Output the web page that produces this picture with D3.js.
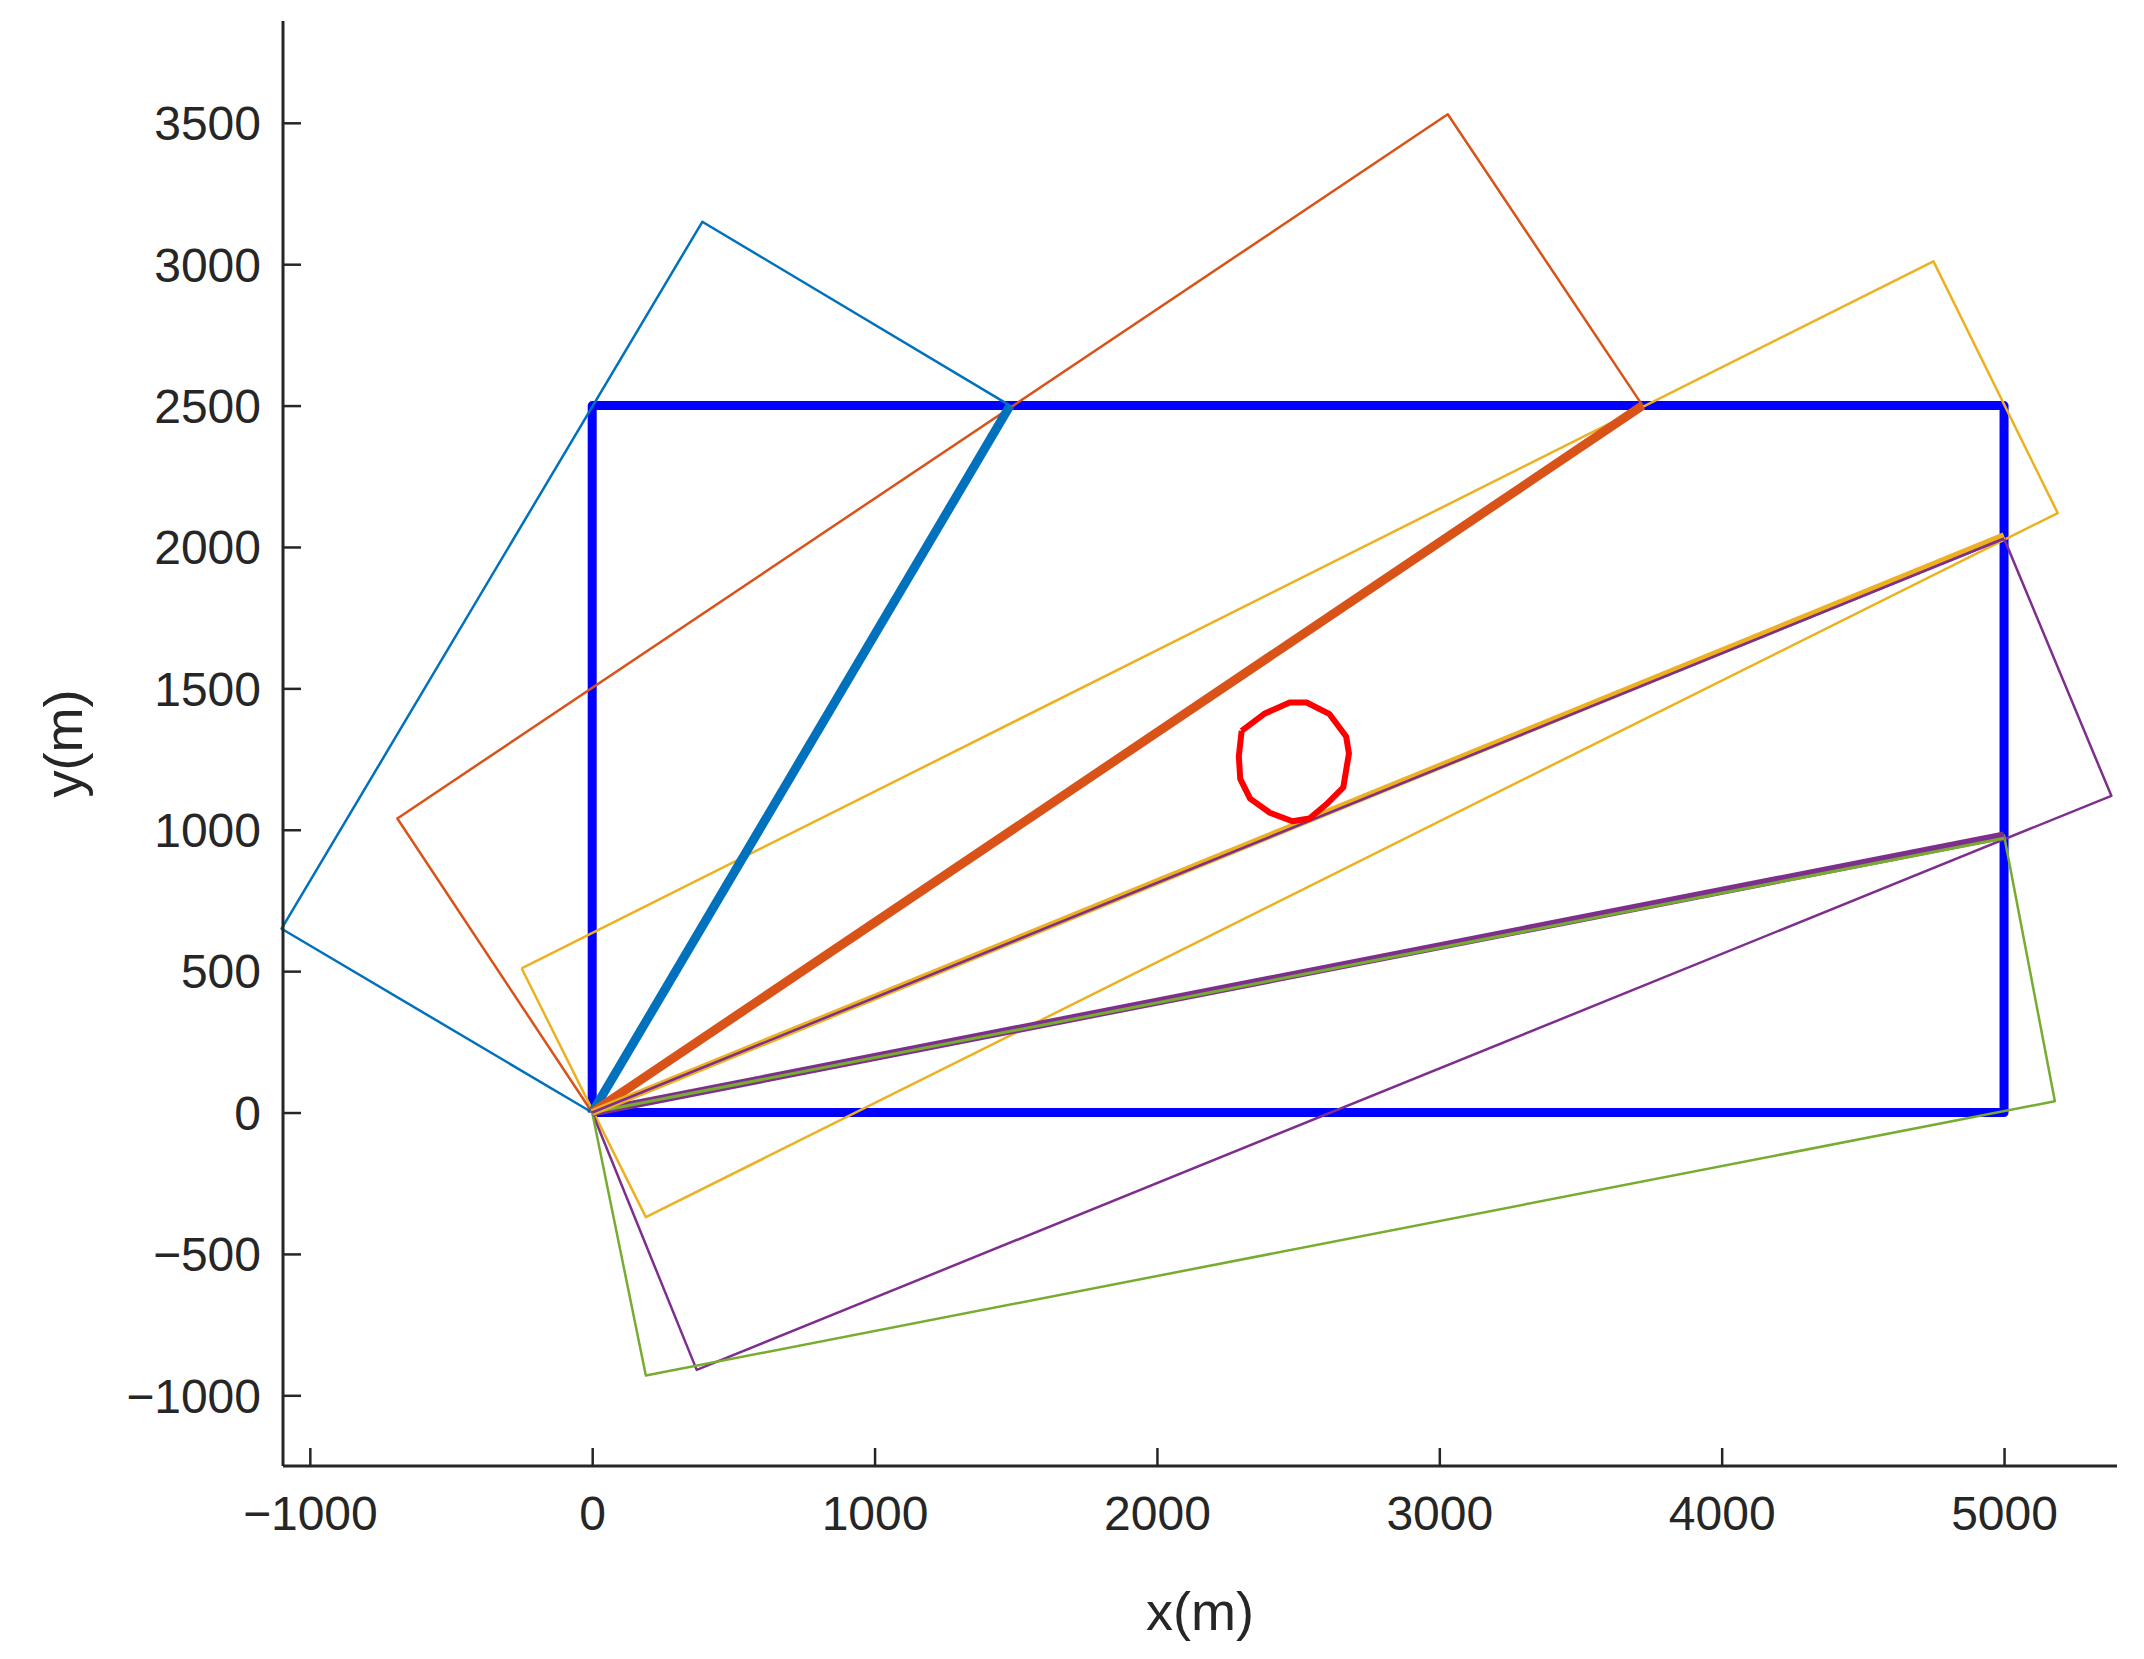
<!DOCTYPE html>
<html><head><meta charset="utf-8">
<script src="https://cdn.jsdelivr.net/npm/d3@7"></script>
<style>body{margin:0;background:#fff}text{font-family:"Liberation Sans",Arial,sans-serif;fill:#262626}</style>
</head><body><svg id="chart" width="2144" height="1659"></svg>
<script>
var xTicks = [-1000,0,1000,2000,3000,4000,5000];
var yTicks = [-1000,-500,0,500,1000,1500,2000,2500,3000,3500];
var field = [[0,0],[5000,0],[5000,2500],[0,2500],[0,0]];
var blueRect = [[0,0],[-1100,650],[390,3150],[1480,2500],[0,0]];
var blueDiag = [[0,0],[1480,2500]];
var orangeRect = [[0,0],[-690,1040],[3030,3530],[3720,2500],[0,0]];
var orangeDiag = [[0,0],[3720,2500]];
var yellowRect = [[-250,510],[4750,3010],[5190,2120],[190,-370],[-250,510]];
var purpleRect = [[0,0],[5000,2030],[5380,1120],[370,-910],[0,0]];
var purpleDiag = [[0,0],[5000,980]];
var yellowDiag = [[0,0],[5000,2040]];
var greenRect = [[0,0],[190,-930],[5180,40],[5000,980],[0,0]];
var greenDiag = [[0,0],[5000,970]];
var obstacle = [[2300,1350],[2380,1410],[2470,1450],[2530,1450],[2610,1410],[2670,1330],[2680,1270],[2660,1150],[2600,1090],[2540,1040],[2480,1030],[2400,1060],[2330,1110],[2295,1180],[2290,1260],[2300,1350]];

var svg = d3.select('#chart');
var L = 283, R = 2117, T = 21, B = 1466;
var x = d3.scaleLinear().domain([-1095,5400]).range([L,R]);
var y = d3.scaleLinear().domain([-1250,3860]).range([B,T]);
var line = d3.line().x(function(d){return x(d[0]);}).y(function(d){return y(d[1]);});

function draw(pts, color, w) {
  svg.append('path').datum(pts).attr('d', line).attr('fill','none')
     .attr('stroke', color).attr('stroke-width', w).attr('stroke-linejoin','round');
}
draw(field, '#0000FF', 9);
draw(blueRect, '#0072BD', 2.5);
draw(orangeRect, '#D95319', 2.5);
draw(yellowRect, '#EDB120', 2.5);
draw(purpleRect, '#7E2F8E', 2.5);
draw(greenRect, '#77AC30', 2.5);
draw(blueDiag, '#0072BD', 9);
draw(orangeDiag, '#D95319', 9);
draw(purpleDiag, '#7E2F8E', 8);
draw(greenDiag, '#77AC30', 3);
draw(yellowDiag, '#EDB120', 7);
draw([[0,0],[5000,2030]], '#7E2F8E', 2.5);
draw(obstacle, '#FF0000', 6);

var xAxis = d3.axisBottom(x).tickValues(xTicks).tickSize(-18).tickPadding(30).tickFormat(d3.format('d'));
var yAxis = d3.axisLeft(y).tickValues(yTicks).tickSize(-18).tickPadding(22).tickFormat(d3.format('d'));
var gx = svg.append('g').attr('transform','translate(0,'+B+')').call(xAxis);
var gy = svg.append('g').attr('transform','translate('+L+',0)').call(yAxis);
[gx, gy].forEach(function(g){
  g.select('.domain').attr('stroke','#262626').attr('stroke-width',3);
  g.selectAll('.tick line').attr('stroke','#262626').attr('stroke-width',2.5);
  g.selectAll('text').attr('font-size',48).style('font-family','"Liberation Sans",Arial,sans-serif').attr('fill','#262626');
});
gx.select('.domain').attr('d','M'+L+',0H'+R);
gy.select('.domain').attr('d','M0,'+B+'V'+T);
gy.selectAll('text').attr('dy','0.35em');

svg.append('text').attr('x',(L+R)/2).attr('y',1630).attr('text-anchor','middle').attr('font-size',54).text('x(m)');
svg.append('text').attr('transform','translate(82,'+((T+B)/2)+') rotate(-90)').attr('text-anchor','middle').attr('font-size',54).text('y(m)');
</script></body></html>
